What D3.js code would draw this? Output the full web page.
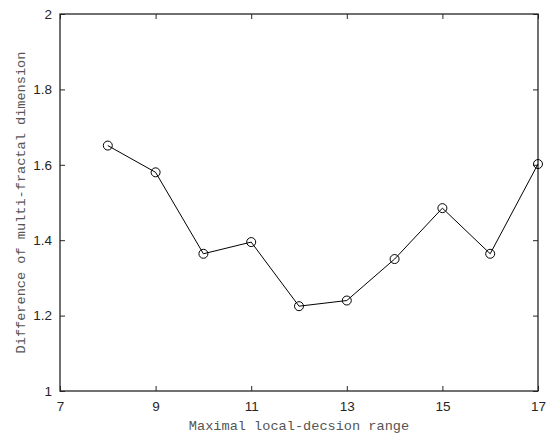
<!DOCTYPE html>
<html>
<head>
<meta charset="utf-8">
<script src="https://cdn.jsdelivr.net/npm/d3@7"></script>
<style>
  body { margin: 0; background: #fff; }
  .tick text { font-family: "Liberation Sans", Arial, sans-serif; font-size: 13.5px; fill: #262626; }
  .label { font-family: "Liberation Mono", "DejaVu Sans Mono", monospace; font-size: 13.6px; fill: #555; }
</style>
</head>
<body>
<svg width="553" height="437"></svg>
<script>
// waarden
const bereik = [8, 9, 10, 11, 12, 13, 14, 15, 16, 17]
const verschil = [1.651, 1.580, 1.364, 1.395, 1.225, 1.240, 1.350, 1.485, 1.364, 1.602]
const xTicks = [7, 9, 11, 13, 15, 17]
const yTicks = [1, 1.2, 1.4, 1.6, 1.8, 2]

const svg = d3.select("svg")
const margin = { top: 14, right: 15, bottom: 46, left: 60 }
const width = +svg.attr("width") - margin.left - margin.right
const height = +svg.attr("height") - margin.top - margin.bottom

const x = d3.scaleLinear().domain([7, 17]).range([0, width])
const y = d3.scaleLinear().domain([1, 2]).range([height, 0])

const g = svg.append("g").attr("transform", `translate(${margin.left},${margin.top})`)

// assen met ticks naar binnen, net als matlab
const fmt = d => String(d)
const stijl = a => {
  a.select(".domain").remove()
  a.selectAll("line").attr("stroke", "#262626")
}
g.append("g").attr("transform", `translate(0,${height})`)
  .call(d3.axisBottom(x).tickValues(xTicks).tickFormat(fmt).tickSizeInner(-5).tickSizeOuter(0).tickPadding(10))
  .call(stijl)
g.append("g")
  .call(d3.axisTop(x).tickValues(xTicks).tickFormat("").tickSizeInner(-5).tickSizeOuter(0))
  .call(stijl)
g.append("g")
  .call(d3.axisLeft(y).tickValues(yTicks).tickFormat(fmt).tickSizeInner(-5).tickSizeOuter(0).tickPadding(8))
  .call(stijl)
g.append("g").attr("transform", `translate(${width},0)`)
  .call(d3.axisRight(y).tickValues(yTicks).tickFormat("").tickSizeInner(-5).tickSizeOuter(0))
  .call(stijl)

g.append("rect")
  .attr("width", width).attr("height", height)
  .attr("fill", "none").attr("stroke", "#262626").attr("stroke-width", 1.3)

const data = bereik.map((b, i) => ({ b, v: verschil[i] }))

g.append("path")
  .datum(data)
  .attr("fill", "none")
  .attr("stroke", "#000")
  .attr("stroke-width", 1)
  .attr("d", d3.line().x(d => x(d.b)).y(d => y(d.v)))

g.selectAll("circle")
  .data(data)
  .enter()
  .append("circle")
  .attr("cx", d => x(d.b))
  .attr("cy", d => y(d.v))
  .attr("r", 4.5)
  .attr("fill", "none")
  .attr("stroke", "#000")
  .attr("stroke-width", 1)

svg.append("text")
  .attr("class", "label")
  .attr("x", margin.left + width / 2)
  .attr("y", 430)
  .attr("text-anchor", "middle")
  .text("Maximal local-decsion range")

svg.append("text")
  .attr("class", "label")
  .attr("transform", `translate(25,${margin.top + height / 2}) rotate(-90)`)
  .attr("text-anchor", "middle")
  .text("Difference of multi-fractal dimension")
</script>
</body>
</html>
